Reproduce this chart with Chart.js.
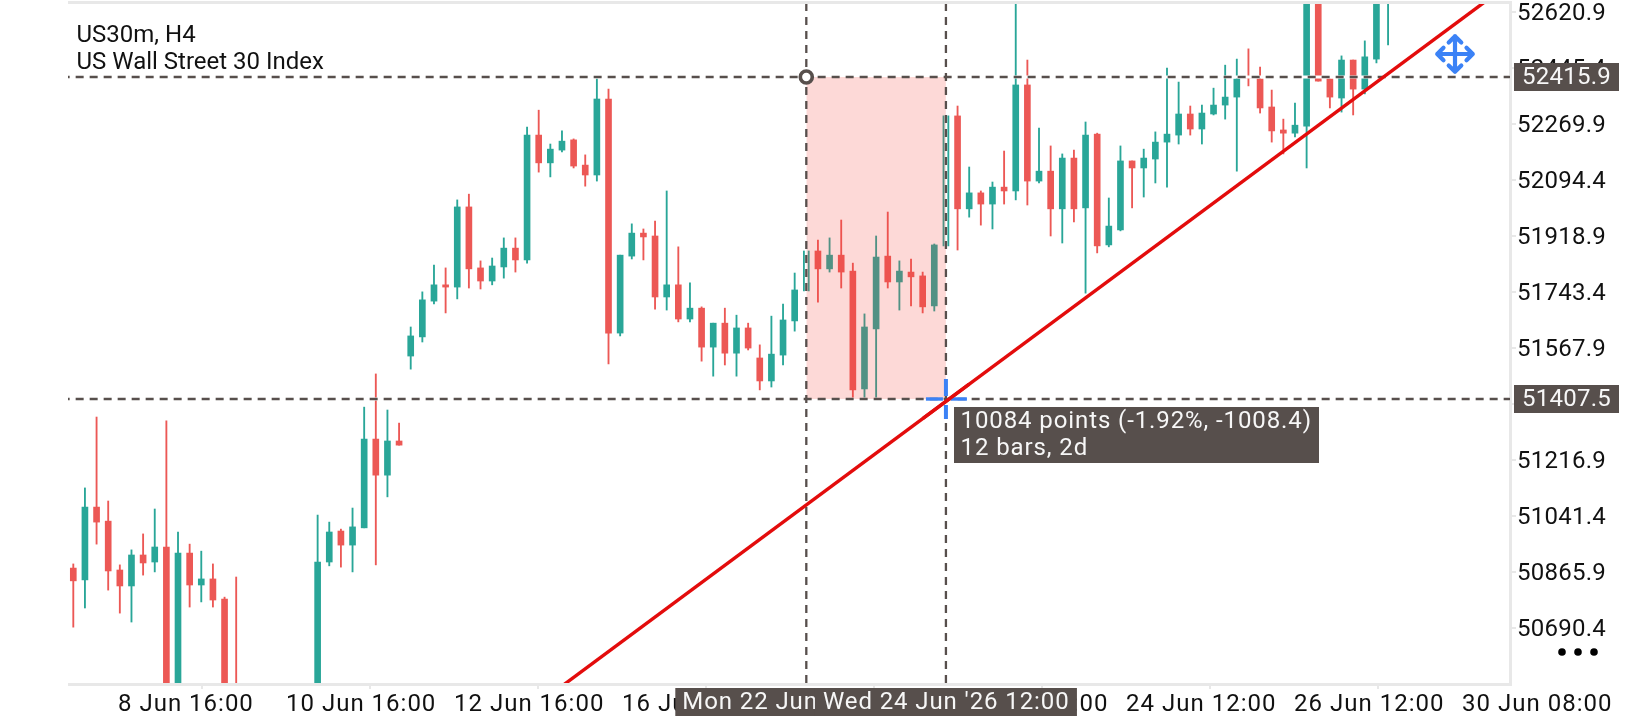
<!DOCTYPE html>
<html><head><meta charset="utf-8">
<style>html,body{margin:0;padding:0;background:#fff}#w{width:1640px;height:720px;position:relative}</style>
<script src="https://cdn.jsdelivr.net/npm/chart.js@4"></script>
</head><body><div id="w"><canvas id="c" width="1640" height="720"></canvas></div>
<script>
const titleLines = ["US30m, H4", "US Wall Street 30 Index"];
const opens = [50878,50841,51069,51025,50872,50822,50919,50897,50944,50277,50925,50825,50844,50781,50465,null,null,null,null,null,null,50308,50897,50994,50950,51004,51282,51169,51276,51542,51602,51714,51765,51758,52009,51818,51777,51821,51880,51843,52234,52147,52187,52219,52140,52109,52347,51614,51855,51927,51918,51727,51765,51658,51692,51570,51645,51551,51630,51536,51464,51545,51652,51746,51871,51815,51858,51808,51439,51627,51855,51774,51805,51793,51699,51887,52294,52003,52053,52018,52071,52059,52391,52090,52121,52003,52162,52006,52237,51890,51937,52153,52131,52159,52212,52234,52300,52253,52300,52328,52353,52416,52410,52322,52250,52240,52262,52782,52410,52350,52469,52378,52472,52688];
const highs = [50891,51129,51351,51088,50888,50935,50985,51063,51339,50991,50953,50931,50891,50787,50850,null,null,null,null,null,null,51044,51022,51000,51066,51382,51486,51373,51332,51633,51743,51827,51818,52031,52049,51840,51849,51912,51912,52259,52312,52206,52247,52222,52172,52410,52378,51858,51956,51940,51965,52059,51884,51771,51696,51645,51692,51670,51645,51577,51667,51705,51802,52009,51905,51912,51968,51833,51674,51918,51993,51840,51846,51805,51893,52294,52325,52134,52059,52087,52184,52657,52469,52256,52200,52175,52187,52275,52240,52037,52200,52153,52190,52244,52444,52400,52325,52328,52381,52453,52472,52504,52447,52375,52284,52334,52845,52876,52410,52482,52469,52529,52845,52876];
const lows = [50693,50753,50953,50809,50737,50709,50856,50866,50230,50246,50756,50772,50756,50308,50324,null,null,null,null,null,null,50277,50885,50881,50866,51004,50888,51101,51263,51501,51586,51705,51677,51721,51755,51752,51765,51786,51805,51833,52118,52103,52181,52131,52074,52090,51517,51605,51846,51843,51689,51686,51649,51649,51526,51479,51514,51479,51561,51436,51445,51514,51620,51743,51711,51805,51755,51411,51411,51411,51755,51686,51699,51677,51683,51887,51874,51977,51952,51940,52018,52031,52015,52084,51918,51896,51962,51739,51865,51884,51934,52006,52040,52084,52071,52206,52234,52206,52297,52284,52121,52388,52303,52212,52175,52228,52131,52403,52319,52306,52297,52363,52460,52516];
const closes = [50838,51069,51022,50869,50822,50919,50894,50944,50277,50925,50825,50844,50778,50340,50371,null,null,null,null,null,null,50897,50991,50950,51007,51282,51169,51276,51263,51605,51718,51765,51758,52009,51815,51777,51824,51880,51843,52234,52147,52190,52215,52137,52109,52347,51614,51858,51927,51915,51727,51765,51658,51692,51570,51645,51551,51630,51567,51464,51548,51655,51749,51871,51815,51858,51805,51436,51633,51852,51774,51808,51790,51696,51890,52294,52003,52053,52018,52071,52059,52391,52090,52121,52003,52162,52003,52234,51887,51949,52153,52131,52162,52212,52237,52300,52253,52303,52328,52353,52410,52413,52319,52247,52240,52265,52782,52403,52353,52469,52378,52479,52720,52720];
const priceTicks = [52620.9,52445.4,52269.9,52094.4,51918.9,51743.4,51567.9,51392.4,51216.9,51041.4,50865.9,50690.4];
const dateLabels = ["8 Jun 16:00","10 Jun 16:00","12 Jun 16:00","16 Jun 16:00","18 Jun 16:00","22 Jun 12:00","24 Jun 12:00","26 Jun 12:00","30 Jun 08:00"];
const dateTickBars = [3.84,18.28,32.72,47.16,61.6,76.04,90.48,104.92,119.36];
const measureBars = [63,75];
const measurePrices = [52415.9,51407.5];
const trendBars = [40,125];
const trendPrices = [50454.5,52750.6];
const priceTagText = ["52415.9","51407.5"];
const timeTagText = ["Mon 22 Jun","Wed 24 Jun '26 12:00"];
const measureLines = ["10084 points (-1.92%, -1008.4)","12 bars, 2d"];
const UP='#29A698', DOWN='#EC5855', INK='#574F4C', BLUE='#3B82F6', FRAME='#E8E8E8', TREND='#E30C0C';
const FONT='24px Roboto';

const bodies=[], wicks=[], bodyCol=[], wickCol=[];
opens.forEach((o,i)=>{ if(o===null) return;
  const col = closes[i]>=o?UP:DOWN;
  bodies.push({x:i,y:[o,closes[i]]}); bodyCol.push(col);
  wicks.push({x:i,y:[lows[i],highs[i]]}); wickCol.push(col);
});
const [b0,b1]=measureBars, [p0,p1]=measurePrices;
const yMax=52644.5,yMin=50518.1;
const hLines=[[{x:-1,y:p0},{x:130,y:p0}],[{x:-1,y:p1},{x:130,y:p1}]];
const vLines=[[{x:b0,y:yMin},{x:b0,y:yMax}],[{x:b1,y:yMin},{x:b1,y:yMax}]];
const line=(data,color,width,dash,order)=>({type:'line',data,borderColor:color,borderWidth:width,borderDash:dash||[],pointRadius:0,order,fill:false,tension:0,borderCapStyle:'butt'});
const datasets=[
 {type:'bar',data:wicks,backgroundColor:wickCol,barThickness:1.2,grouped:false,order:20},
 {type:'bar',data:bodies,backgroundColor:bodyCol,barThickness:6,grouped:false,order:19,minBarLength:1.5},
];
[...hLines,...vLines].forEach(d=>datasets.push(line(d,'#FFFFFF',3,null,18)));
datasets.push({type:'line',data:[{x:b0,y:p0},{x:b1,y:p0}],borderWidth:0,pointRadius:0,fill:{value:p1},backgroundColor:'rgba(244,67,54,0.2)',order:17});
[...hLines,...vLines].forEach(d=>datasets.push(line(d,INK,2.3,[8,6],16)));
datasets.push(line(trendBars.map((x,i)=>({x,y:trendPrices[i]})),TREND,3.4,null,15));
datasets.push({type:'line',data:[{x:b0,y:p0}],pointRadius:6,pointBorderWidth:3.6,pointBorderColor:INK,pointBackgroundColor:'#fff',showLine:false,order:14,clip:false});

function tag(ctx,x,y,w,h,text,tx,spacing){
  ctx.fillStyle=INK; ctx.fillRect(x,y,w,h);
  ctx.fillStyle='#F7F7F7'; ctx.font=FONT; ctx.textAlign='left'; ctx.textBaseline='middle';
  ctx.letterSpacing=spacing||'0px'; ctx.fillText(text,tx,y+h/2+1); ctx.letterSpacing='0px';
}
const deco={id:'deco',
 afterLayout(ch){
  const ctx=ch.ctx;
  [['x','1px'],['y','0.25px']].forEach(([k,sp])=>{
    const s=ch.scales[k], orig=s.drawLabels.bind(s);
    s.drawLabels=(a)=>{ctx.letterSpacing=sp;orig(a);ctx.letterSpacing='0px';};
  });
 },
 beforeDatasetsDraw(ch){
  const {ctx,chartArea:a}=ch; ctx.save();
  ctx.fillStyle=FRAME;
  ctx.fillRect(a.left,1,a.right-a.left+2,3);
  ctx.fillRect(a.left,a.bottom,a.right-a.left+2,3);
  ctx.fillRect(a.right-1,1,3,a.bottom+2);
  ctx.restore();
 },
 afterDraw(ch){
  const {ctx,scales:{x,y}}=ch; ctx.save();
  ctx.fillStyle='#111'; ctx.font=FONT; ctx.textBaseline='middle'; ctx.textAlign='left';
  ctx.fillText(titleLines[0],76.5,35.5); ctx.fillText(titleLines[1],76.5,63);
  const cx=x.getPixelForValue(b1), cy=y.getPixelForValue(p1);
  ctx.fillStyle=BLUE;
  ctx.fillRect(cx-20,cy-1.7,17,3.4); ctx.fillRect(cx+5,cy-1.7,16,3.4);
  ctx.fillRect(cx-2,cy-20,4,17); ctx.fillRect(cx-2,cy+6,4,14);
  const tp=(b)=>trendPrices[0]+(trendPrices[1]-trendPrices[0])*(b-trendBars[0])/(trendBars[1]-trendBars[0]);
  ctx.strokeStyle=TREND; ctx.lineWidth=3.4; ctx.beginPath();
  ctx.moveTo(x.getPixelForValue(b1-2),y.getPixelForValue(tp(b1-2)));ctx.lineTo(x.getPixelForValue(b1+2),y.getPixelForValue(tp(b1+2)));ctx.stroke();
  ctx.save(); ctx.translate(1455,54); ctx.strokeStyle=BLUE; ctx.lineWidth=4.2; ctx.lineCap='round'; ctx.lineJoin='round';
  ctx.beginPath(); ctx.moveTo(-17.8,0); ctx.lineTo(17.8,0); ctx.moveTo(0,-17.8); ctx.lineTo(0,17.8);
  for(let k=0;k<4;k++){ ctx.rotate(Math.PI/2); ctx.moveTo(11.5,-6.3); ctx.lineTo(17.8,0); ctx.lineTo(11.5,6.3); }
  ctx.stroke(); ctx.restore();
  measurePrices.forEach((p,i)=>{ const py=Math.round(y.getPixelForValue(p)); tag(ctx,1514,py-14,105,28,priceTagText[i],1522,'0.25px'); });
  const t0=x.getPixelForValue(b0), t1=x.getPixelForValue(b1);
  tag(ctx,t0-131,688,140,28,timeTagText[0],t0-124,'0.9px');
  tag(ctx,t1-131,688,262,28,timeTagText[1],t1-123,'0.9px');
  ctx.fillStyle=INK; ctx.fillRect(954,407,365,56);
  ctx.fillStyle='#F7F7F7'; ctx.letterSpacing='0.9px';
  ctx.fillText(measureLines[0],960.5,422); ctx.fillText(measureLines[1],960.5,449);
  ctx.letterSpacing='0px';
  ctx.fillStyle='#000'; [1562,1578,1594].forEach(d=>{ctx.beginPath();ctx.arc(d,652,3.8,0,7);ctx.fill();});
  ctx.restore();
 }};
new Chart(document.getElementById('c'),{
 data:{datasets},
 plugins:[deco],
 options:{
  responsive:false,animation:false,events:[],
  layout:{autoPadding:false,padding:{left:68,top:4,right:0,bottom:0}},
  plugins:{legend:{display:false},tooltip:{enabled:false},title:{display:false}},
  scales:{
   x:{type:'linear',min:-0.455,max:123.48,offset:false,
    grid:{drawOnChartArea:false,drawTicks:true,tickLength:6,color:FRAME,lineWidth:2},
    border:{display:false},
    afterBuildTicks(s){s.ticks=dateTickBars.map(v=>({value:v}));},
    afterFit(s){s.height=37;s.paddingLeft=0;s.paddingRight=0;},
    ticks:{align:'start',autoSkip:false,maxRotation:0,minRotation:0,color:'#111',padding:2,font:{family:'Roboto',size:24},
     callback(v,i){return dateLabels[i];}}
   },
   y:{type:'linear',position:'right',min:yMin,max:yMax,
    grid:{drawOnChartArea:false,drawTicks:true,tickLength:6,color:FRAME,lineWidth:2},
    border:{display:false},
    afterBuildTicks(s){s.ticks=priceTicks.map(v=>({value:v}));},
    afterFit(s){s.width=130;s.paddingTop=0;s.paddingBottom=0;},
    ticks:{autoSkip:false,color:'#111',padding:1,labelOffset:2,font:{family:'Roboto',size:24},callback(v){return v.toFixed(1);}}
   }
  }
 }
});
</script></body></html>
